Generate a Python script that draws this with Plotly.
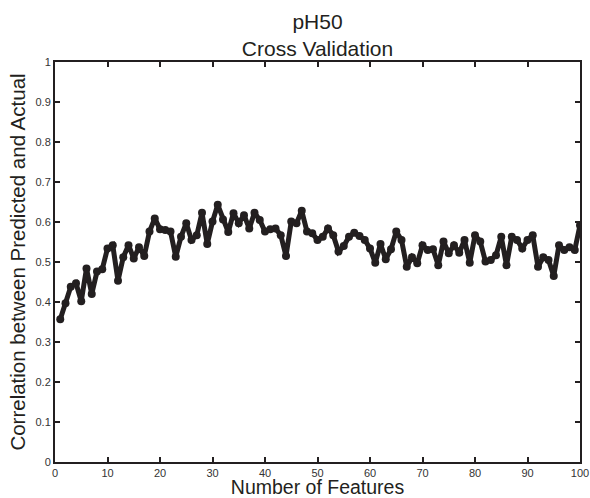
import plotly.graph_objects as go

features = list(range(1, 101))
correlation = [
    0.357, 0.397, 0.438, 0.447, 0.402, 0.484, 0.420, 0.476, 0.482, 0.534,
    0.542, 0.453, 0.512, 0.542, 0.509, 0.537, 0.515, 0.576, 0.609, 0.582,
    0.580, 0.576, 0.513, 0.563, 0.597, 0.555, 0.567, 0.623, 0.545, 0.601,
    0.643, 0.606, 0.575, 0.622, 0.597, 0.617, 0.584, 0.623, 0.605, 0.576,
    0.582, 0.584, 0.567, 0.515, 0.601, 0.597, 0.628, 0.576, 0.572, 0.555,
    0.563, 0.584, 0.567, 0.526, 0.540, 0.563, 0.573, 0.565, 0.555, 0.534,
    0.498, 0.545, 0.507, 0.532, 0.576, 0.555, 0.488, 0.512, 0.497, 0.542,
    0.530, 0.532, 0.492, 0.551, 0.522, 0.542, 0.523, 0.555, 0.498, 0.567,
    0.551, 0.501, 0.505, 0.517, 0.563, 0.492, 0.563, 0.555, 0.534, 0.555,
    0.567, 0.488, 0.512, 0.505, 0.465, 0.542, 0.530, 0.537, 0.530, 0.592,
]
x_ticks = list(range(0, 101, 10))
y_ticks = [round(i / 10, 1) for i in range(0, 11)]
y_tick_text = ["0"] + [f"{v:g}" for v in y_ticks[1:-1]] + ["1"]

font_family = "Liberation Sans, Arial, sans-serif"

fig = go.Figure()
fig.add_trace(go.Scatter(
    x=features, y=correlation, mode="lines+markers",
    line=dict(color="#231f20", width=5),
    marker=dict(color="#231f20", size=8, symbol="circle"),
    showlegend=False,
))

fig.update_layout(
    width=590, height=498,
    paper_bgcolor="white", plot_bgcolor="white",
    margin=dict(l=55, r=10, t=62, b=36, autoexpand=False),
    font=dict(family=font_family, color="#231f20"),
    title=dict(text="pH50<br>Cross Validation", x=0.5, xref="paper", xanchor="center",
               y=1 - 29 / 498, yref="container", yanchor="middle",
               font=dict(size=21, color="#231f20")),
)
fig.update_xaxes(
    range=[0, 100], tickvals=x_ticks, ticks="inside", ticklen=5, tickwidth=1.5,
    tickcolor="#231f20", mirror="ticks", showline=True, linecolor="#231f20",
    linewidth=2, showgrid=False, zeroline=False, automargin=False,
    tickfont=dict(size=11, color="#333333"),
    title=dict(text="Number of Features", font=dict(size=19.5, color="#231f20"), standoff=7),
)
fig.update_yaxes(
    range=[0, 1], tickvals=y_ticks, ticktext=y_tick_text, ticks="inside", ticklen=5,
    tickwidth=1.5, tickcolor="#231f20", mirror="ticks", showline=True,
    linecolor="#231f20", linewidth=2, showgrid=False, zeroline=False, automargin=False,
    tickfont=dict(size=11, color="#333333"),
    title=dict(text="Correlation between Predicted and Actual",
               font=dict(size=20.5, color="#231f20"), standoff=4),
)

fig.write_html("out.html", config={"displayModeBar": False},
               post_script="document.body.style.margin='0';")
